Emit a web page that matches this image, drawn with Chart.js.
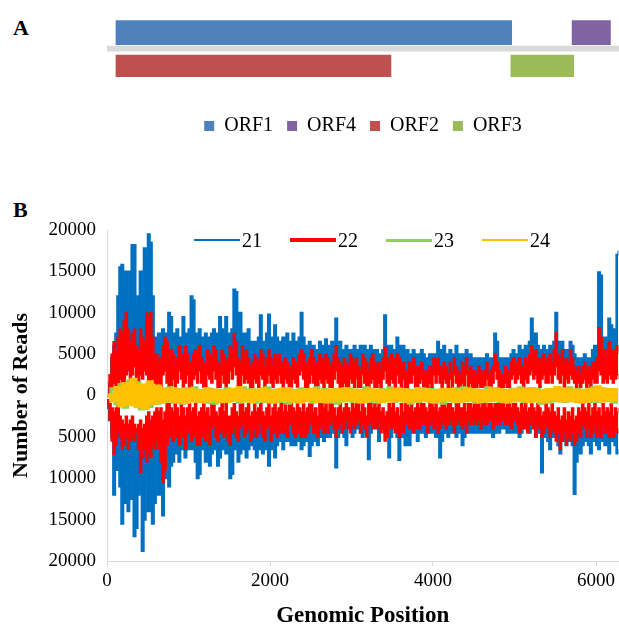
<!DOCTYPE html>
<html lang="en">
<head>
<meta charset="UTF-8">
<title>ORF map and small RNA coverage</title>
<style>
  html, body { margin: 0; padding: 0; background: #fff; overflow: hidden; }
  body { width: 619px; height: 628px; position: relative; font-family: "Liberation Serif", "Times New Roman", serif; color: #000; }
  .tag { position: absolute; left: 13px; font-weight: bold; font-size: 22px; line-height: 1; }
  #mapBox { position: absolute; left: 0; top: 0; width: 619px; height: 146px; }
  #readsBox { position: absolute; left: 0; top: 190px; width: 619px; height: 440px; }
  #readsLegend { position: absolute; left: 194px; top: 229px; display: flex; gap: 28px; font-size: 20px; line-height: 22px; }
  #readsLegend .item { display: flex; align-items: center; }
  #readsLegend .item i { display: inline-block; width: 46px; margin-right: 2px; }
</style>
</head>
<body>
  <div class="tag" style="top:17px">A</div>
  <div class="tag" style="top:199px">B</div>
  <div id="mapBox"><canvas id="orfMap"></canvas></div>
  <div id="readsBox"><canvas id="readsChart"></canvas></div>
  <div id="readsLegend"></div>

  <script src="https://cdn.jsdelivr.net/npm/chart.js"></script>
  <script>
    // panel A: genome organisation
    const rows = ['upper', 'genome', 'lower'];
    const orfNames = ['ORF1', 'ORF4', 'ORF2', 'ORF3'];
    const orfStart = [110, 5700, 110, 4950];
    const orfEnd = [4960, 6170, 3480, 5720];
    const orfRow = ['upper', 'upper', 'lower', 'lower'];
    const orfColors = ['#4f81bd', '#8064a2', '#c0504d', '#9bbb59'];
    const genomeLength = 6300;
    const axisMax = 6275;
    const posTicks = [0, 2000, 4000, 6000];

    // panel B: reads per 25 nt bin, plus strand above zero, minus strand below.
    // 21 nt: outer edge (largest count in bin)
    const binSize = 25;
    const reads21Plus = [
      0, 1500, 4500, 6000, 7500, 12000, 15500, 15800, 12500, 15000, 11000, 15000,
      18200, 18200, 11000, 12000, 15000, 12000, 17800, 16500, 19500, 18500, 12000, 7000,
      7000, 7500, 6500, 8000, 7000, 7500, 10000, 9500, 7000, 7500, 8000, 6500,
      7000, 9500, 7500, 6500, 8000, 12000, 11500, 7500, 7000, 8000, 7000, 6000,
      7500, 6500, 7000, 7500, 8000, 6500, 7500, 9500, 8000, 7000, 9500, 7000,
      7500, 8000, 12800, 12500, 8000, 10000, 7500, 6500, 7500, 8000, 6500, 6000,
      6500, 6000, 7000, 9700, 6500, 6000, 7500, 9800, 7000, 6500, 8500, 7000,
      6000, 6500, 7000, 5500, 7500, 6500, 6000, 7500, 6500, 5500, 7000, 10000,
      7000, 6000, 5500, 6500, 5000, 6000, 5500, 5000, 6500, 6000, 5500, 6800,
      6000, 5500, 6500, 5500, 9300, 6000, 6500, 5500, 5000, 6000, 5500, 5000,
      5500, 6000, 5000, 5500, 6000, 5000, 6000, 5500, 4500, 6000, 5500, 5000,
      5500, 5000, 4500, 5500, 9700, 6000, 5500, 6000, 5500, 5500, 7000, 6000,
      5500, 6000, 5000, 5500, 4500, 5000, 5500, 5000, 4500, 5000, 5500, 5000,
      4500, 4500, 5000, 4000, 5000, 4500, 6500, 5500, 5000, 6000, 5000, 4500,
      5500, 5000, 5000, 6000, 5000, 4500, 5000, 4500, 5500, 4500, 5000, 4500,
      4500, 4000, 4500, 4500, 4000, 4500, 5000, 4000, 4500, 4500, 7500, 6500,
      4500, 4500, 4000, 4500, 4500, 4000, 5000, 5500, 4500, 5000, 6000, 5500,
      5000, 6000, 5500, 6500, 9300, 6500, 7500, 6000, 5500, 5500, 6000, 5500,
      5500, 6000, 5000, 6500, 10000, 6500, 6000, 6500, 5500, 5500, 5000, 6500,
      6000, 5000, 4500, 4500, 4000, 4500, 5000, 4500, 4500, 4500, 5500, 6000,
      6000, 14900, 14500, 6500, 7000, 6000, 9300, 8500, 8000, 7000, 17000, 17500
    ];
    const reads21Minus = [
      -1500, -3000, -5000, -12000, -9000, -8000, -11000, -15500, -13000, -9000, -14000, -12500,
      -10000, -17000, -16000, -12000, -10000, -18800, -15000, -9000, -14000, -11000, -15500, -13000,
      -8000, -12000, -9500, -14500, -10000, -8000, -11000, -8500, -8000, -7000, -7000, -8000,
      -6500, -6000, -7500, -6500, -6000, -6500, -6000, -8000, -10000, -9500, -6500, -6000,
      -8000, -6500, -8500, -7000, -6500, -6000, -8500, -7500, -6500, -6000, -7000, -6000,
      -10000, -9500, -6500, -6000, -8000, -7000, -6000, -6500, -7500, -6500, -5500, -6000,
      -6500, -7500, -6000, -6500, -7000, -5500, -6500, -8500, -6500, -6000, -7500, -6000,
      -5500, -5500, -6500, -5500, -5000, -5500, -6000, -5500, -6000, -5000, -5500, -6500,
      -6000, -5000, -5500, -7300, -6000, -5000, -5500, -6000, -4500, -5000, -5500, -5000,
      -4000, -5000, -3500, -4500, -8700, -5000, -4000, -4500, -5000, -6000, -4000, -3500,
      -5000, -4500, -4000, -3500, -4500, -5000, -4000, -4500, -7700, -4500, -3500, -4000,
      -3500, -5500, -4000, -3500, -4500, -4000, -7500, -5000, -4000, -3500, -5000, -7800,
      -5000, -4500, -6000, -5000, -6000, -4500, -4500, -4500, -5500, -4500, -4500, -4000,
      -5000, -4500, -4000, -4500, -4500, -5000, -4500, -7500, -5500, -4500, -4500, -5000,
      -4500, -4500, -4000, -5000, -4500, -4500, -6000, -5000, -4500, -4000, -4500, -4500,
      -4000, -4500, -4500, -4500, -4500, -4000, -4500, -4000, -4500, -5000, -4500, -4000,
      -4500, -4000, -3500, -4000, -4500, -4500, -4000, -4500, -4000, -4500, -5000, -4500,
      -3000, -4000, -3500, -4500, -4000, -3500, -5000, -4500, -4000, -9300, -5000, -4500,
      -5500, -6500, -5000, -4500, -5000, -6000, -7000, -5500, -5000, -6000, -5500, -5000,
      -6000, -11900, -8000, -5500, -7000, -6000, -5000, -5500, -6000, -7000, -5500, -5000,
      -6000, -6500, -5500, -5000, -6000, -5500, -7000, -5000, -5500, -6000, -7000, -6500
    ];
    // 22 nt: outer edge of each bin and its base (the count nearest zero)
    const reads22Plus = [
      0, 2500, 5000, 6500, 5500, 7000, 8000, 7500, 9000, 10000, 8000, 6500,
      7500, 8000, 6000, 5500, 8000, 7000, 6500, 10000, 9500, 10000, 7000, 5000,
      5000, 4000, 4500, 6000, 7000, 6500, 4500, 5500, 5000, 3500, 4500, 6000,
      5000, 4500, 6000, 5000, 3500, 4000, 5000, 5500, 4500, 6000, 4500, 4000,
      3500, 5500, 5000, 4500, 6000, 5500, 4000, 3500, 5500, 5000, 4000, 4500,
      6000, 5500, 7500, 6500, 4500, 4000, 6000, 5000, 5500, 4500, 3500, 4000,
      5000, 4500, 4000, 5500, 5000, 3500, 4500, 5500, 4500, 3500, 5000, 4500,
      5000, 4000, 3500, 4500, 4000, 3000, 3500, 4500, 4000, 3500, 5000, 5500,
      5000, 4000, 3500, 4500, 5500, 4500, 3500, 4000, 5000, 4500, 4000, 5000,
      4500, 3500, 4000, 5000, 6000, 4500, 4000, 3500, 4500, 4000, 3500, 5000,
      4500, 4000, 4500, 3500, 3000, 5000, 4500, 4000, 3000, 4500, 5000, 4000,
      3500, 4000, 3000, 4500, 5800, 4500, 4000, 5000, 4500, 3500, 5000, 4500,
      3500, 4000, 3000, 2500, 4000, 3500, 4500, 3500, 2500, 3500, 4000, 3000,
      2500, 3000, 3500, 3000, 4500, 4000, 4500, 3500, 3000, 4000, 3500, 2500,
      4000, 3000, 4500, 3500, 3000, 2500, 4000, 3500, 4500, 3000, 3500, 3000,
      3000, 2500, 3500, 3000, 2500, 3000, 4000, 2500, 3000, 3500, 5000, 4000,
      3000, 2500, 2500, 3500, 3000, 2500, 4000, 4500, 3500, 4000, 4500, 3500,
      3500, 4500, 4000, 5000, 6000, 5000, 5500, 4500, 4000, 4500, 5000, 4000,
      4500, 5000, 4000, 5500, 7600, 5000, 4500, 5500, 4000, 4500, 4000, 5500,
      4500, 3500, 3000, 3500, 2500, 3500, 4000, 3000, 3500, 3000, 4000, 4000,
      4500, 8200, 7000, 5000, 5500, 4500, 6500, 5500, 4500, 5500, 6000, 5000
    ];
    const reads22PlusBase = [
      0, 500, 1000, 1500, 1000, 1500, 2000, 1500, 1200, 2500, 3000, 2000,
      2500, 3500, 2000, 1500, 2500, 2000, 3000, 2500, 1500, 1000, 2000, 1500,
      1000, 1500, 1000, 2500, 3000, 1500, 1000, 1200, 2000, 1000, 1500, 3000,
      2000, 1000, 1500, 2500, 1000, 1000, 2000, 2500, 1500, 3000, 1500, 1000,
      1000, 2500, 2000, 1500, 3000, 2000, 1000, 1000, 2500, 1500, 1000, 1500,
      3000, 2000, 3500, 2500, 1000, 1000, 2500, 1500, 2000, 1500, 1000, 1000,
      2000, 1500, 1000, 2500, 2000, 1000, 1500, 2500, 1500, 1000, 2000, 1500,
      2500, 1500, 1000, 2000, 1500, 1000, 1000, 2000, 1500, 1000, 2500, 3000,
      2000, 1000, 1000, 1500, 2500, 1500, 1000, 1000, 2000, 1500, 1000, 2000,
      1500, 1000, 1000, 2000, 3000, 1500, 1000, 1000, 1500, 1000, 1000, 2000,
      1500, 1000, 2000, 1000, 1000, 2500, 1500, 1000, 1000, 1500, 2000, 1000,
      1000, 1500, 1000, 2000, 3000, 1500, 1000, 2000, 1500, 1000, 2500, 1500,
      1000, 2000, 1000, 1000, 1500, 1500, 2500, 1000, 1000, 1500, 2000, 1000,
      1000, 1000, 1500, 1000, 2500, 1500, 2500, 1500, 1000, 2000, 1500, 1000,
      2000, 1000, 2500, 1500, 1000, 1000, 1500, 1000, 2500, 1000, 1500, 1000,
      1000, 1000, 1500, 1000, 1000, 1000, 2000, 1000, 1000, 1500, 3000, 2000,
      1000, 1000, 1000, 1500, 1000, 1000, 2000, 2500, 1500, 2000, 2500, 1500,
      1000, 2000, 1500, 2500, 3000, 2000, 2500, 1500, 1000, 2000, 2500, 1500,
      1500, 2500, 1500, 2500, 3500, 2000, 1500, 2500, 1000, 2000, 1500, 2500,
      2000, 1500, 1000, 1500, 1000, 1500, 2000, 1000, 1500, 1000, 2000, 1500,
      1500, 3000, 2500, 1500, 2000, 1500, 2500, 2000, 1500, 2000, 2500, 2000
    ];
    const reads22Minus = [
      -1000, -3000, -5500, -7100, -6000, -4500, -5000, -6500, -6000, -5000, -6500, -5500,
      -5000, -5500, -4500, -6500, -9300, -7500, -6500, -8000, -7000, -7500, -6000, -6500,
      -5500, -6500, -8000, -10500, -9000, -6000, -5000, -4500, -5500, -4000, -5000, -6000,
      -4500, -5000, -6500, -4500, -4000, -5500, -5000, -4500, -6000, -6000, -5000, -4000,
      -5500, -4500, -6000, -4000, -3500, -5000, -5500, -4500, -4000, -5000, -4500, -5500,
      -6000, -4500, -4000, -5000, -5500, -4000, -3500, -5000, -4500, -4000, -5500, -5000,
      -4000, -5000, -4500, -3500, -5000, -5500, -4000, -3500, -5500, -4500, -4000, -5000,
      -4500, -3500, -4500, -4000, -5000, -3500, -3000, -4500, -5000, -4000, -4500, -5000,
      -4000, -5000, -4500, -3500, -3000, -4500, -4000, -5000, -4000, -3500, -4500, -4000,
      -4500, -3500, -3000, -4000, -5000, -4000, -3500, -4500, -4000, -3000, -4000, -4500,
      -3500, -4000, -3500, -3000, -4500, -3500, -4000, -5000, -3500, -3000, -4000, -3500,
      -4000, -3000, -4500, -4000, -5500, -5000, -3500, -4000, -3500, -4500, -4000, -5000,
      -3500, -4500, -3500, -3000, -4000, -3500, -4500, -4000, -3000, -4000, -3500, -3000,
      -3500, -4500, -3500, -3000, -4000, -3500, -4500, -4000, -3000, -3500, -4000, -3500,
      -3000, -3500, -4500, -3500, -3000, -3500, -4000, -3500, -4500, -3000, -3500, -3500,
      -3000, -3500, -3000, -4000, -3000, -3500, -3500, -3000, -3000, -4000, -3500, -3000,
      -3500, -3000, -3000, -3500, -3000, -3500, -4000, -3000, -3000, -3500, -4500, -3500,
      -4000, -3500, -4500, -3500, -3000, -4000, -5000, -3500, -4000, -5000, -4500, -3500,
      -4000, -5000, -4000, -4500, -5500, -4500, -6500, -5500, -4500, -6000, -5000, -5500,
      -4500, -6000, -5500, -4500, -5000, -3500, -4000, -5000, -4000, -5000, -4500, -3500,
      -5000, -4000, -5000, -3500, -4500, -4000, -5000, -3500, -5000, -4000, -4500, -4000
    ];
    const reads22MinusBase = [
      -500, -1000, -1500, -2000, -1500, -1000, -2500, -3000, -3500, -2500, -3500, -3000,
      -2500, -3500, -4000, -3500, -3000, -4000, -3500, -2500, -2000, -3000, -2500, -2000,
      -1500, -2000, -1500, -3000, -2000, -1000, -1000, -1500, -2000, -1000, -1500, -2500,
      -1000, -1500, -2500, -1500, -1000, -2000, -1500, -1000, -2500, -2000, -1500, -1000,
      -2000, -1500, -2500, -1000, -1000, -2000, -2500, -1500, -1000, -2000, -1000, -2500,
      -2500, -1500, -1000, -2000, -2500, -1000, -1000, -2000, -1500, -1000, -2500, -2000,
      -1000, -2000, -1500, -1000, -2000, -2500, -1500, -1000, -2500, -1500, -1000, -2000,
      -1500, -1000, -2000, -1000, -2000, -1000, -1000, -1500, -2000, -1000, -1500, -2000,
      -1000, -2000, -1500, -1000, -1000, -2000, -1500, -2500, -1000, -1000, -1500, -1000,
      -2000, -1000, -1000, -1500, -2500, -1500, -1000, -2000, -1500, -1000, -1500, -2000,
      -1000, -1500, -1000, -1000, -2000, -1000, -1500, -2500, -1000, -1000, -1500, -1000,
      -1500, -1000, -2000, -1500, -2500, -2000, -1000, -1500, -1000, -2000, -1500, -2500,
      -1000, -2000, -1000, -1000, -1500, -1000, -2000, -1500, -1000, -1500, -1000, -1000,
      -1500, -2000, -1000, -1000, -1500, -1000, -2000, -1500, -1000, -1000, -1500, -1000,
      -1000, -1500, -2000, -1000, -1000, -1500, -1500, -1000, -2000, -1000, -1000, -1500,
      -1000, -1000, -1000, -1500, -1000, -1000, -1500, -1000, -1000, -1500, -1000, -1000,
      -1000, -1000, -1000, -1500, -1000, -1000, -1500, -1000, -1000, -1500, -2000, -1000,
      -1500, -1000, -2000, -1500, -1000, -1500, -2000, -1000, -1500, -2500, -2000, -1000,
      -1500, -2000, -1000, -2000, -2500, -1500, -3000, -2500, -1500, -3000, -2000, -2500,
      -1500, -3000, -2500, -1500, -2000, -1000, -1500, -2000, -1000, -2500, -1500, -1000,
      -2000, -1500, -2500, -1000, -2000, -1500, -2000, -1000, -2500, -1500, -2000, -1500
    ];
    // 23/24 nt reads per 50 nt bin (a narrow band around zero)
    const bandBinSize = 50;
    const reads23 = [
      0, 800, -1000, 1300, -1400, 1700, -1100, 1500, -1600, 1200,
      -1300, 1000, -900, 800, -700, 900, -800, 700, -900, 800,
      -600, 900, -700, 600, -800, 700, -900, 600, -700, 800,
      -600, 700, -800, 900, -600, 700, -800, 600, -700, 900,
      -800, 600, -700, 800, -900, 600, -700, 800, -600, 700,
      -800, 900, -600, 700, -800, 600, -900, 700, -600, 800,
      -700, 600, -800, 900, -700, 600, -800, 700, -600, 900,
      -700, 800, -600, 700, -900, 600, -700, 800, -600, 700,
      -800, 600, -900, 700, -600, 800, -700, 900, -600, 700,
      -800, 600, -700, 900, -600, 800, -700, 600, -800, 700,
      -600, 900, -700, 800, -600, 700, -900, 600, -800, 700,
      -600, 800, -700, 900, -600, 700, -800, 600, -700, 900,
      -700, 800, -600, 700, -800, 600
    ];
    const reads24 = [
      0, -600, 900, -1200, 1400, -1000, 1900, -1300, 1200, -1500,
      1600, -900, 1100, -800, 700, -600, 800, -700, 600, -800,
      700, -600, 500, -700, 800, -500, 600, -700, 500, -650,
      700, -500, 900, -600, 550, -700, 600, -500, 750, -600,
      500, -700, 650, -500, 800, -600, 500, -750, 600, -500,
      700, -650, 500, -700, 600, -550, 700, -600, 800, -500,
      600, -700, 500, -650, 700, -500, 600, -700, 550, -600,
      700, -500, 650, -700, 500, -600, 800, -550, 600, -700,
      500, -600, 700, -500, 650, -700, 500, -600, 750, -500,
      600, -700, 550, -600, 700, -500, 650, -700, 500, -600,
      700, -550, 600, -700, 800, -600, 500, -700, 650, -500,
      900, -600, 700, -550, 600, -700, 500, -650, 700, -500,
      1000, -600, 700, -500, 650, -700
    ];

    const seriesNames = ['21', '22', '23', '24'];
    const seriesColors = ['#0070c0', '#ff0000', '#92d050', '#ffc000'];
    const seriesWidths = [2, 4, 3, 2];
    const plotWidths = [2, 1.5, 3.5, 4];

    const serif = 'Liberation Serif';
    const toPoints = (vals, step) => vals.map((v, i) => ({ x: i * step, y: v }));
    const fixedTicks = s => { s.ticks = posTicks.map(v => ({ value: v })); };

    // ----- panel A -----
    const mapSets = orfNames.map((name, i) => ({
      label: name,
      data: rows.map(r => r === orfRow[i] ? [orfStart[i], orfEnd[i]] : null),
      backgroundColor: orfColors[i],
      barThickness: orfRow[i] === 'upper' ? 30 : 25,
      grouped: false
    }));
    mapSets.push({
      label: 'genome',
      data: rows.map(r => r === 'genome' ? [0, genomeLength] : null),
      backgroundColor: '#d9d9d9',
      barThickness: 5,
      grouped: false
    });

    new Chart(document.getElementById('orfMap'), {
      type: 'bar',
      data: { labels: rows, datasets: mapSets },
      options: {
        indexAxis: 'y',
        animation: false,
        responsive: true,
        maintainAspectRatio: false,
        layout: { padding: { left: 107, top: 20.25, right: 0, bottom: 0 } },
        scales: {
          x: {
            type: 'linear', min: 0, max: axisMax,
            ticks: { display: false },
            grid: { display: false },
            border: { display: false },
            afterFit: s => { s.height = 25; }
          },
          y: { display: false }
        },
        plugins: {
          legend: {
            position: 'bottom',
            labels: {
              boxWidth: 10, boxHeight: 10, padding: 14, color: '#000',
              font: { family: serif, size: 20 },
              filter: item => item.text !== 'genome'
            }
          },
          tooltip: { enabled: false }
        }
      }
    });

    // ----- panel B -----
    // each bin is drawn as a stepped line; the fill closes the band between the edges
    const lineSet = (k, vals, step, fill) => ({
      label: seriesNames[k],
      data: toPoints(vals, step),
      borderColor: seriesColors[k],
      backgroundColor: seriesColors[k],
      borderWidth: plotWidths[k],
      pointRadius: 0,
      stepped: true,
      fill: fill === undefined ? false : fill,
      order: 4 - k
    });

    new Chart(document.getElementById('readsChart'), {
      type: 'line',
      data: {
        datasets: [
          lineSet(0, reads21Plus, binSize, 2),
          lineSet(0, reads21Minus, binSize, 4),
          lineSet(1, reads22Plus, binSize, 3),
          lineSet(1, reads22PlusBase, binSize),
          lineSet(1, reads22Minus, binSize, 5),
          lineSet(1, reads22MinusBase, binSize),
          lineSet(2, reads23, bandBinSize),
          lineSet(3, reads24, bandBinSize)
        ]
      },
      options: {
        animation: false,
        responsive: true,
        maintainAspectRatio: false,
        layout: { padding: { top: 40, left: 0, right: 0, bottom: 0 } },
        scales: {
          x: {
            type: 'linear', min: 0, max: axisMax,
            afterBuildTicks: fixedTicks,
            ticks: { padding: 4, color: '#000', font: { family: serif, size: 19 }, callback: v => String(v) },
            grid: { drawOnChartArea: false, drawTicks: true, tickLength: 5, color: '#d9d9d9' },
            border: { display: true, color: '#d9d9d9' },
            title: { display: true, text: 'Genomic Position', color: '#000', font: { family: serif, size: 23, weight: 'bold' }, padding: 0 },
            afterFit: s => { s.height = 69; }
          },
          y: {
            min: -20000, max: 20000,
            ticks: { stepSize: 5000, padding: 11, color: '#000', font: { family: serif, size: 19 }, callback: v => String(Math.abs(v)) },
            grid: { display: false, drawTicks: false },
            border: { display: true, color: '#d9d9d9' },
            title: { display: true, text: 'Number of Reads', color: '#000', font: { family: serif, size: 22, weight: 'bold' }, padding: { top: 8, bottom: 0 } },
            afterFit: s => { s.width = 107; }
          }
        },
        plugins: { legend: { display: false }, tooltip: { enabled: false } }
      }
    });

    // legend for panel B, placed inside the plot like the original
    const legendBox = document.getElementById('readsLegend');
    seriesNames.forEach((name, k) => {
      const item = document.createElement('span');
      item.className = 'item';
      item.innerHTML = `<i style="height:${seriesWidths[k]}px;background:${seriesColors[k]}"></i>${name}`;
      legendBox.appendChild(item);
    });
  </script>
</body>
</html>
